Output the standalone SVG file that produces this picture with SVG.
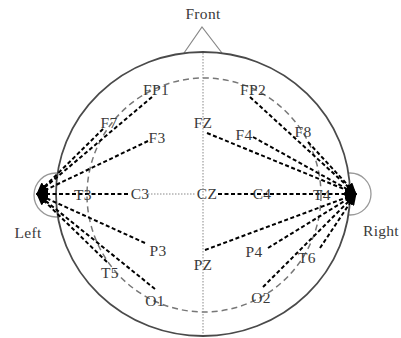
<svg xmlns="http://www.w3.org/2000/svg" width="401" height="338" viewBox="0 0 401 338">
<style>
.lbl{font-family:"Liberation Serif","Times New Roman",serif;font-size:15.5px;fill:#3a3a3a;text-anchor:middle;letter-spacing:0.3px}
.con{stroke:#000;stroke-width:2;stroke-dasharray:4 2.5;fill:none;marker-end:url(#ah)}
.dot{stroke:#888;stroke-width:1;stroke-dasharray:1.5 1.5;fill:none}
</style>
<defs>
<marker id="ah" markerUnits="userSpaceOnUse" markerWidth="12" markerHeight="10" refX="11" refY="5" orient="auto">
<path d="M0,0 L12,5 L0,10 Z" fill="#000"/>
</marker>
</defs>
<rect width="401" height="338" fill="#fff"/>
<g id="head">
<polyline points="184,53 202,27 222,53" fill="none" stroke="#888" stroke-width="1.2"/>
<circle cx="56" cy="195" r="22" fill="none" stroke="#999" stroke-width="1.3"/>
<circle cx="350" cy="194" r="21" fill="none" stroke="#999" stroke-width="1.3"/>
<ellipse cx="203" cy="194" rx="147" ry="142" fill="#fff" stroke="#4a4a4a" stroke-width="1.8"/>
<circle cx="204" cy="195" r="117" fill="none" stroke="#777" stroke-width="1.5" stroke-dasharray="6 4"/>
<line class="dot" x1="203" y1="53" x2="203" y2="335"/>
<line class="dot" x1="148" y1="194" x2="196" y2="194"/>
</g>
<g id="connectors">
<line class="con" x1="152" y1="97" x2="37" y2="194"/>
<line class="con" x1="103" y1="129" x2="37" y2="194"/>
<line class="con" x1="148" y1="141" x2="37" y2="194"/>
<line class="con" x1="128" y1="194" x2="37" y2="194"/>
<line class="con" x1="145" y1="243" x2="37" y2="194"/>
<line class="con" x1="107" y1="262" x2="37" y2="194"/>
<line class="con" x1="155" y1="289" x2="37" y2="194"/>
<line class="con" x1="250" y1="97" x2="356" y2="194"/>
<line class="con" x1="308" y1="142" x2="356" y2="194"/>
<line class="con" x1="253" y1="137" x2="356" y2="194"/>
<line class="con" x1="207" y1="133" x2="356" y2="194"/>
<line class="con" x1="218" y1="194" x2="356" y2="194"/>
<line class="con" x1="205" y1="250" x2="356" y2="194"/>
<line class="con" x1="268" y1="248" x2="356" y2="194"/>
<line class="con" x1="320" y1="248" x2="356" y2="194"/>
<line class="con" x1="263" y1="287" x2="356" y2="194"/>
</g>
<g id="labels">
<text class="lbl" x="203" y="19">Front</text>
<text class="lbl" x="28" y="238">Left</text>
<text class="lbl" x="381" y="236">Right</text>
</g>
<g id="FP1"><text class="lbl" x="156" y="95">FP1</text></g>
<g id="FP2"><text class="lbl" x="253" y="95">FP2</text></g>
<g id="F7"><text class="lbl" x="109" y="128">F7</text></g>
<g id="F8"><text class="lbl" x="303" y="137">F8</text></g>
<g id="F3"><text class="lbl" x="157" y="143">F3</text></g>
<g id="FZ"><text class="lbl" x="203" y="128">FZ</text></g>
<g id="F4"><text class="lbl" x="244" y="140">F4</text></g>
<g id="T3"><text class="lbl" x="83" y="200">T3</text></g>
<g id="C3"><text class="lbl" x="140" y="199">C3</text></g>
<g id="CZ"><text class="lbl" x="207" y="199">CZ</text></g>
<g id="C4"><text class="lbl" x="262" y="199">C4</text></g>
<g id="T4"><text class="lbl" x="322" y="200">T4</text></g>
<g id="P3"><text class="lbl" x="158" y="256">P3</text></g>
<g id="PZ"><text class="lbl" x="203" y="270">PZ</text></g>
<g id="P4"><text class="lbl" x="254" y="257">P4</text></g>
<g id="T5"><text class="lbl" x="110" y="278">T5</text></g>
<g id="T6"><text class="lbl" x="307" y="263">T6</text></g>
<g id="O1"><text class="lbl" x="155" y="306">O1</text></g>
<g id="O2"><text class="lbl" x="261" y="303">O2</text></g>
</svg>
